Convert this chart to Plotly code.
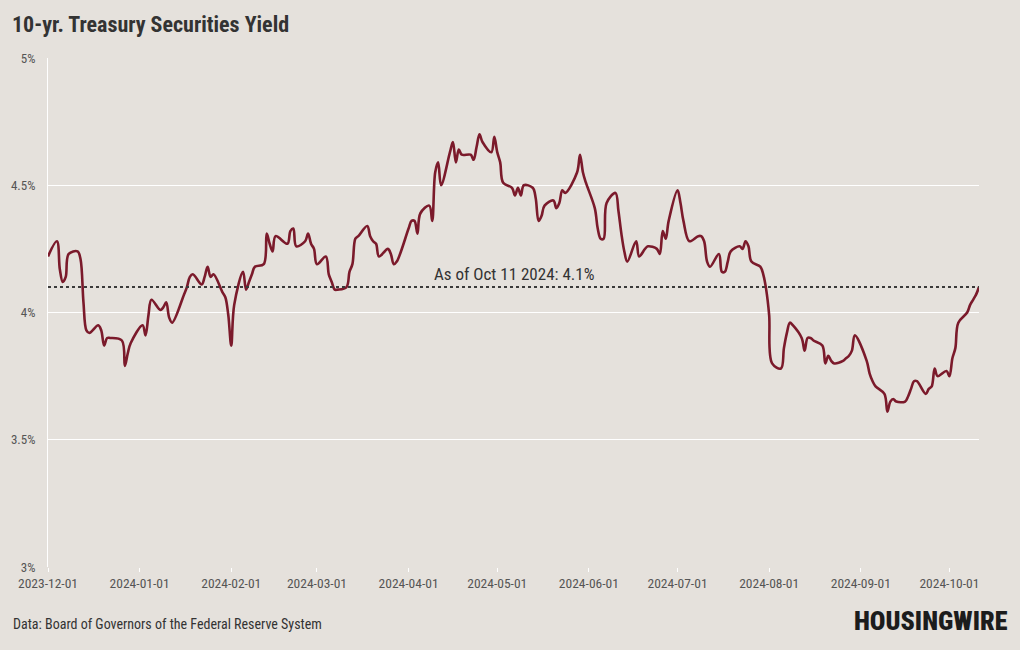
import plotly.graph_objects as go

# ---- Data: 10-yr Treasury yield (%), business days ----
dec_days = [1, 4, 5, 6, 7, 8, 11, 12, 13, 14, 15, 18, 19, 20, 21, 22, 26, 27, 28, 29]
dec_vals = [4.22, 4.28, 4.17, 4.12, 4.14, 4.23, 4.24, 4.21, 4.04, 3.93, 3.92, 3.95, 3.93, 3.87, 3.90, 3.90, 3.89, 3.79, 3.84, 3.88]

jan_days = [2, 3, 4, 5, 8, 9, 10, 11, 12, 16, 17, 18, 19, 22, 23, 24, 25, 26, 29, 30, 31]
jan_vals = [3.95, 3.91, 3.99, 4.05, 4.01, 4.02, 4.04, 3.98, 3.96, 4.07, 4.10, 4.14, 4.15, 4.11, 4.14, 4.18, 4.14, 4.15, 4.08, 4.06, 3.99]

feb_days = [1, 2, 5, 6, 7, 8, 9, 12, 13, 14, 15, 16, 20, 21, 22, 23, 26, 27, 28, 29]
feb_vals = [3.87, 4.03, 4.16, 4.09, 4.12, 4.15, 4.18, 4.19, 4.31, 4.27, 4.24, 4.30, 4.27, 4.32, 4.33, 4.26, 4.28, 4.31, 4.27, 4.25]

mar_days = [1, 4, 5, 6, 7, 8, 11, 12, 13, 14, 15, 18, 19, 20, 21, 22, 25, 26, 27, 28]
mar_vals = [4.19, 4.22, 4.15, 4.12, 4.09, 4.09, 4.10, 4.16, 4.19, 4.29, 4.30, 4.34, 4.30, 4.28, 4.27, 4.22, 4.25, 4.23, 4.19, 4.20]

apr_days = [1, 2, 3, 4, 5, 8, 9, 10, 11, 12, 15, 16, 17, 18, 19, 22, 23, 24, 25, 26, 29, 30]
apr_vals = [4.33, 4.36, 4.36, 4.31, 4.39, 4.42, 4.36, 4.55, 4.59, 4.50, 4.63, 4.67, 4.59, 4.64, 4.62, 4.62, 4.60, 4.65, 4.70, 4.67, 4.63, 4.69]

may_days = [1, 2, 3, 6, 7, 8, 9, 10, 13, 14, 15, 16, 17, 20, 21, 22, 23, 24, 28, 29, 30, 31]
may_vals = [4.63, 4.59, 4.51, 4.49, 4.46, 4.49, 4.46, 4.50, 4.49, 4.45, 4.36, 4.38, 4.42, 4.44, 4.41, 4.43, 4.48, 4.47, 4.55, 4.62, 4.55, 4.51]

jun_days = [3, 4, 5, 6, 7, 10, 11, 12, 13, 14, 17, 18, 20, 21, 24, 25, 26, 27, 28]
jun_vals = [4.41, 4.33, 4.29, 4.29, 4.43, 4.47, 4.40, 4.31, 4.24, 4.20, 4.28, 4.22, 4.25, 4.26, 4.25, 4.23, 4.32, 4.29, 4.36]

jul_days = [1, 2, 3, 5, 8, 9, 10, 11, 12, 15, 16, 17, 18, 19, 22, 23, 24, 25, 26, 29, 30, 31]
jul_vals = [4.48, 4.43, 4.36, 4.28, 4.30, 4.30, 4.28, 4.20, 4.18, 4.23, 4.16, 4.16, 4.20, 4.24, 4.26, 4.25, 4.28, 4.26, 4.20, 4.18, 4.15, 4.09]

aug_days = [1, 2, 5, 6, 7, 8, 9, 12, 13, 14, 15, 16, 19, 20, 21, 22, 23, 26, 27, 28, 29, 30]
aug_vals = [3.99, 3.80, 3.78, 3.86, 3.92, 3.96, 3.95, 3.90, 3.85, 3.90, 3.90, 3.89, 3.87, 3.80, 3.83, 3.81, 3.80, 3.81, 3.82, 3.83, 3.85, 3.91]

sep_days = [3, 4, 5, 6, 9, 10, 11, 12, 13, 16, 17, 18, 19, 20, 23, 24, 25, 26, 27, 30]
sep_vals = [3.81, 3.76, 3.73, 3.71, 3.68, 3.61, 3.65, 3.66, 3.65, 3.65, 3.67, 3.70, 3.73, 3.73, 3.68, 3.70, 3.71, 3.78, 3.75, 3.77]

oct_days = [1, 2, 3, 4, 7, 8, 9, 10, 11]
oct_vals = [3.75, 3.82, 3.86, 3.96, 4.00, 4.03, 4.05, 4.07, 4.10]

latest_value = 4.1
latest_label = "As of Oct 11 2024: 4.1%"

y_tick_vals = [3, 3.5, 4, 4.5, 5]
y_tick_text = ["3%", "3.5%", "4%", "4.5%", "5%"]

title_text = "10-yr. Treasury Securities Yield"
source_text = "Data: Board of Governors of the Federal Reserve System"
logo_text = "HOUSINGWIRE"

# ---- Build series ----
month_blocks = [
    ("2023-12", dec_days, dec_vals), ("2024-01", jan_days, jan_vals),
    ("2024-02", feb_days, feb_vals), ("2024-03", mar_days, mar_vals),
    ("2024-04", apr_days, apr_vals), ("2024-05", may_days, may_vals),
    ("2024-06", jun_days, jun_vals), ("2024-07", jul_days, jul_vals),
    ("2024-08", aug_days, aug_vals), ("2024-09", sep_days, sep_vals),
    ("2024-10", oct_days, oct_vals),
]
dates, values = [], []
for ym, days, vals in month_blocks:
    dates += [f"{ym}-{d:02d}" for d in days]
    values += vals

BG = "#e5e1dc"
FONT = "Roboto Condensed, Liberation Sans Narrow, Arial Narrow, DejaVu Sans Condensed, Roboto, sans-serif"

fig = go.Figure()
fig.add_trace(go.Scatter(
    x=dates, y=values, mode="lines",
    line=dict(color="#7b1a2b", width=2.6, shape="spline", smoothing=1),
    hoverinfo="skip", showlegend=False,
))

fig.add_shape(type="line", xref="paper", x0=0, x1=1, yref="y",
              y0=latest_value, y1=latest_value,
              line=dict(color="#3a3a3a", width=2, dash="dot"))

fig.add_annotation(text=latest_label, xref="paper", x=0.5, yref="y", y=latest_value,
                   yanchor="bottom", yshift=1, showarrow=False,
                   font=dict(family=FONT, size=17, color="#333333"))

fig.add_annotation(text=source_text, xref="paper", x=(11 - 48) / 931, xanchor="left",
                   yref="paper", y=(567 - 624) / 509, yanchor="middle", showarrow=False,
                   font=dict(family=FONT, size=14, color="#333333"))

fig.add_annotation(text=logo_text, xref="paper", x=(1010 - 48) / 931, xanchor="right",
                   yref="paper", y=(567 - 621) / 509, yanchor="middle", showarrow=False,
                   font=dict(family=FONT, size=26, color="#1c1c1c", weight=900))

fig.update_layout(
    width=1020, height=650,
    paper_bgcolor=BG, plot_bgcolor=BG,
    margin=dict(l=48, r=41, t=58, b=83),
    font=dict(family=FONT, size=13, color="#555555"),
    title=dict(text=title_text, xref="container", x=12 / 1020, xanchor="left",
               yref="container", y=1 - 24 / 650, yanchor="middle",
               font=dict(family=FONT, size=22, color="#333333", weight=700)),
    xaxis=dict(type="date", range=["2023-12-01", "2024-10-11"],
               tick0="2023-12-01", dtick="M1", tickformat="%Y-%m-%d",
               showgrid=False, zeroline=False, showline=False,
               ticks="outside", ticklen=4, tickcolor="#ffffff",
               tickfont=dict(family=FONT, size=13.5, color="#555555")),
    yaxis=dict(range=[3, 5], tickvals=y_tick_vals, ticktext=y_tick_text,
               showgrid=True, gridcolor="#ffffff", gridwidth=1, zeroline=False,
               showline=True, linecolor="#ffffff", linewidth=1,
               ticks="", ticklabelstandoff=9,
               tickfont=dict(family=FONT, size=13, color="#555555")),
)

fig.write_html("out.html")
